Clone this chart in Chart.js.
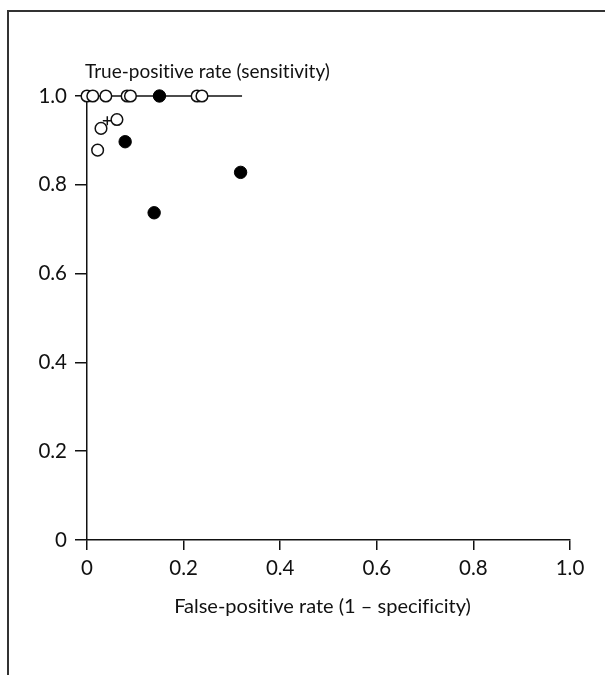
<!DOCTYPE html>
<html><head><meta charset="utf-8">
<script src="https://cdn.jsdelivr.net/npm/chart.js@4"></script>
<style>
html,body{margin:0;padding:0;background:#fff;}
#wrap{position:relative;width:605px;height:675px;overflow:hidden;}
#frame{position:absolute;left:7px;top:10px;width:610px;height:680px;border-top:2px solid #333;border-left:2px solid #333;}
canvas{position:absolute;left:0;top:0;}
</style></head><body>
<div id="wrap"><canvas id="c" width="605" height="675"></canvas><div id="frame"></div></div>
<script>
// Data
const openX = [0.0, 0.012, 0.039, 0.083, 0.090, 0.228, 0.238, 0.062, 0.029, 0.022];
const openY = [1.0, 1.0, 1.0, 1.0, 1.0, 1.0, 1.0, 0.947, 0.927, 0.878];
const filledX = [0.150, 0.079, 0.318, 0.139];
const filledY = [1.0, 0.897, 0.828, 0.737];
const crossX = [0.042];
const crossY = [0.944];
const lineX = [0.0, 0.321];
const lineY = [1.0, 1.0];
const xTickValues = [0, 0.2, 0.4, 0.6, 0.8, 1.0];
const xTickLabels = ['0', '0.2', '0.4', '0.6', '0.8', '1.0'];
const yTickValues = [0, 0.2, 0.4, 0.6, 0.8, 1.0];
const yTickLabels = ['0', '0.2', '0.4', '0.6', '0.8', '1.0'];
const xTitle = 'False-positive rate (1 \u2013 specificity)';
const yTitle = 'True-positive rate (sensitivity)';

const FONT = 'Lato, "Open Sans", sans-serif';
const zip = (xs, ys) => xs.map((x, i) => ({x, y: ys[i]}));

const titlePlugin = {
  id: 'titles',
  afterDraw(chart) {
    const ctx = chart.ctx;
    const xs = chart.scales.x;
    ctx.save();
    ctx.fillStyle = '#111';
    try { ctx.textRendering = 'optimizeSpeed'; } catch (e) {}
    ctx.textBaseline = 'middle';
    ctx.textAlign = 'left';
    ctx.font = '19px ' + FONT;
    ctx.fillText(yTitle, 85, 72);
    ctx.textAlign = 'center';
    ctx.font = '20px ' + FONT;
    ctx.fillText(xTitle, (xs.left + xs.right) / 2 - 6, 607);
    ctx.restore();
  }
};

new Chart(document.getElementById('c'), {
  type: 'scatter',
  data: {
    datasets: [
      { type: 'line', data: zip(lineX, lineY), borderColor: '#111', borderWidth: 1.5,
        pointRadius: 0, fill: false, clip: false, order: 3 },
      { data: zip(openX, openY), pointStyle: 'circle', pointRadius: 5.8,
        pointBackgroundColor: '#fff', pointBorderColor: '#111', pointBorderWidth: 1.5, clip: false, order: 2 },
      { data: zip(filledX, filledY), pointStyle: 'circle', pointRadius: 6.2,
        pointBackgroundColor: '#000', pointBorderColor: '#000', pointBorderWidth: 1, clip: false, order: 1 },
      { data: zip(crossX, crossY), pointStyle: 'cross', pointRadius: 4.5,
        pointBorderColor: '#111', pointBorderWidth: 1.5, clip: false, order: 0 }
    ]
  },
  options: {
    responsive: false,
    animation: false,
    events: [],
    layout: { padding: { left: 0, right: 35, top: 96, bottom: 0 } },
    plugins: { legend: { display: false }, tooltip: { enabled: false }, title: { display: false } },
    scales: {
      x: {
        type: 'linear', min: 0, max: 1,
        afterFit: s => { s.height = 135; },
        afterBuildTicks: s => { s.ticks = xTickValues.map(v => ({ value: v })); },
        grid: { drawOnChartArea: false, drawTicks: true, tickLength: 10, color: '#111', lineWidth: 1.5 },
        border: { display: true, color: '#111', width: 1.5 },
        ticks: { color: '#111', font: { family: FONT, size: 20.5 }, padding: 6, maxRotation: 0,
          callback: (v) => { const i = xTickValues.indexOf(v); return i >= 0 ? xTickLabels[i] : ''; } }
      },
      y: {
        type: 'linear', min: 0, max: 1,
        afterFit: s => { s.width = 87; },
        afterBuildTicks: s => { s.ticks = yTickValues.map(v => ({ value: v })); },
        grid: { drawOnChartArea: false, drawTicks: true, tickLength: 12, color: '#111', lineWidth: 1.5 },
        border: { display: true, color: '#111', width: 1.5 },
        ticks: { color: '#111', font: { family: FONT, size: 20.5 }, padding: 8,
          callback: (v) => { const i = yTickValues.indexOf(v); return i >= 0 ? yTickLabels[i] : ''; } }
      }
    }
  },
  plugins: [titlePlugin]
});
</script>
</body></html>
